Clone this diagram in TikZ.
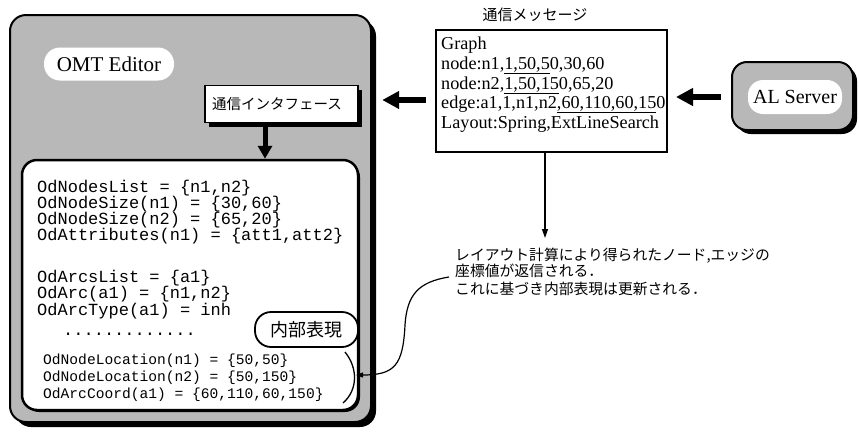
\documentclass[tikz,border=0pt]{standalone}
\usepackage{fontspec}
\setmainfont{Liberation Serif}
\setmonofont{Liberation Mono}
\newfontfamily\cjk{Noto Sans CJK JP}
\usetikzlibrary{arrows.meta,shadows,calc}
\begin{document}
\begin{tikzpicture}[x=1pt,y=-1pt,
  gfill/.style={fill=black!28},
  sh/.style={drop shadow={shadow xshift=#1, shadow yshift=-#1, opacity=1, fill=black}},
  code/.style={font=\ttfamily\fontsize{17}{17}\selectfont, inner sep=0pt, anchor=base west},
  smallcode/.style={font=\ttfamily\fontsize{14.6}{14.6}\selectfont, inner sep=0pt, anchor=base west},
  msgtext/.style={font=\fontsize{18.2}{18.2}\selectfont, inner sep=0pt, anchor=base west},
  jp/.style={font=\cjk\fontsize{14.8}{14.8}\selectfont, inner sep=0pt, anchor=base west},
  bigarrow/.style={line width=6pt, -{Triangle[length=17pt,width=17pt]}},
  downarrow/.style={line width=5pt, -{Triangle[length=13pt,width=14pt]}},
  thinarrow/.style={line width=1.2pt, -{Triangle[length=9pt,width=6pt]}},
]
\useasboundingbox (0,0) rectangle (859,432);

% OMT Editor outer box
\node[draw, line width=2pt, gfill, rounded corners=16pt, minimum width=361pt,
      minimum height=407pt, inner sep=0pt, sh=5pt] (omt) at (190.5,218.5) {};
\node[fill=white, rounded corners=16pt, minimum width=130pt, minimum height=33pt,
      font=\fontsize{21}{21}\selectfont] (omtlabel) at (109,64) {OMT Editor};

% interface box
\node[draw, line width=1.8pt, fill=white, minimum width=153pt, minimum height=37pt,
      inner xsep=7pt, inner ysep=0pt, text width=139pt, align=left, sh=4pt,
      font=\cjk\fontsize{14.5}{14.5}\selectfont] (ifbox) at (281.5,104) {通信インタフェース};

% inner representation box
\node[draw, line width=2.5pt, fill=white, rounded corners=15pt, minimum width=336pt,
      minimum height=250pt, inner sep=0pt, sh=2pt] (inner) at (190,285) {};

\draw[downarrow] ([xshift=-16.5pt]ifbox.south) -- ([xshift=-16.5pt]ifbox.south |- inner.north);

\node[code] (c1) at (37,192) {OdNodesList = \{n1,n2\}};
\node[code] (c2) at (37,208) {OdNodeSize(n1) = \{30,60\}};
\node[code] (c3) at (37,224) {OdNodeSize(n2) = \{65,20\}};
\node[code] (c4) at (37,240) {OdAttributes(n1) = \{att1,att2\}};
\node[code] (c5) at (37,282) {OdArcsList = \{a1\}};
\node[code] (c6) at (37,298) {OdArc(a1) = \{n1,n2\}};
\node[code] (c7) at (37,315) {OdArcType(a1) = inh};
\node[code] (dots) at (63,335) {.............};

\node[smallcode] (s1) at (43,364) {OdNodeLocation(n1) = \{50,50\}};
\node[smallcode] (s2) at (43,381) {OdNodeLocation(n2) = \{50,150\}};
\node[smallcode] (s3) at (43,398) {OdArcCoord(a1) = \{60,110,60,150\}};

\node[draw, line width=1.8pt, fill=white, rounded corners=16pt, minimum width=103pt,
      minimum height=35pt, inner sep=0pt, font=\cjk\fontsize{18}{18}\selectfont] (naibu) at (306.5,329.5) {内部表現};

\draw[line width=1.3pt] (345,352) .. controls (358,368) and (358,390) .. (343,403);
\coordinate (brk) at (356,375);

% message box
\node[font=\cjk\fontsize{15}{15}\selectfont] (title) at (535,15) {通信メッセージ};
\node[draw, line width=1.6pt, fill=white, minimum width=231pt, minimum height=122pt, inner sep=0pt] (msg) at (551.5,91) {};
\node[msgtext] (m1) at (441,49) {Graph};
\node[msgtext] (m2) at (441,69) {node:n1,\underline{1,50,5}0,30,60};
\node[msgtext] (m3) at (441,89) {node:n2,\underline{1,50,15}0,65,20};
\node[msgtext] (m4) at (441,108) {edge:a1,1,n1,n2\underline{,60,110,60,15}0};
\node[msgtext] (m5) at (441,128) {Layout:Spring,ExtLineSearch};

% AL server
\node[draw, line width=2pt, gfill, rounded corners=15pt, minimum width=121pt,
      minimum height=68pt, inner sep=0pt, sh=4pt] (al) at (792.5,96) {};
\node[fill=white, rounded corners=15pt, minimum width=94pt, minimum height=34pt,
      font=\fontsize{20}{20}\selectfont] (allabel) at (795,97) {AL Server};

% thick arrows
\draw[bigarrow] ([xshift=-9pt,yshift=-9pt]msg.west) -- ++(-44,0);
\draw[bigarrow] ([xshift=-10pt,yshift=-1pt]al.west) -- ++(-45,0);

% note
\coordinate (note) at (545,238);
\draw[thinarrow] ([xshift=-6.5pt]msg.south) -- (note);
\node[jp] (t1) at (455,260.5) {レイアウト計算により得られたノード,エッジの};
\node[jp] (t2) at (455,276.5) {座標値が返信される．};
\node[jp] (t3) at (455,294.5) {これに基づき内部表現は更新される．};

\coordinate (cs) at (449,277);
\draw[line width=1.2pt, -{Triangle[length=7pt,width=5pt]}] (cs) .. controls (418,282) and (407,295) .. (405,325)
   .. controls (403,365) and (395,375) .. (brk);
\end{tikzpicture}
\end{document}
